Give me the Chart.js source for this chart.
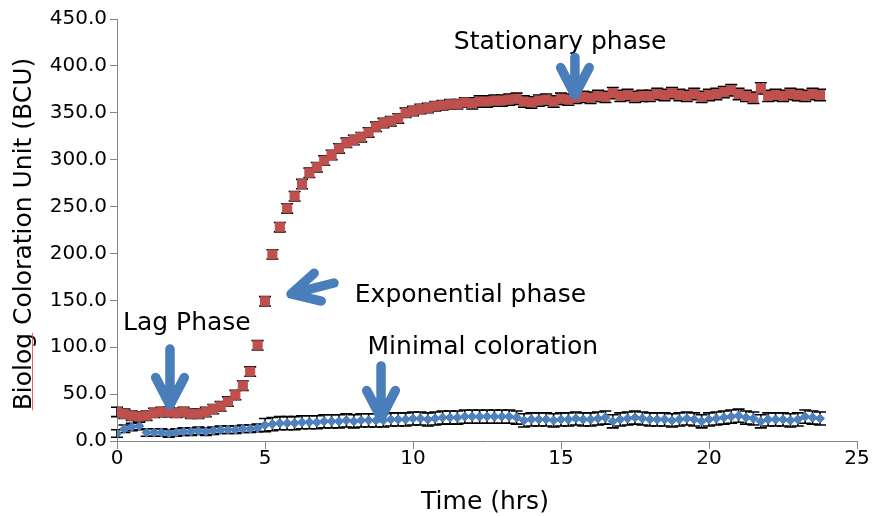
<!DOCTYPE html>
<html lang="en">
<head>
<meta charset="UTF-8">
<title>Biolog coloration over time</title>
<script src="https://cdn.jsdelivr.net/npm/chart.js"></script>
<style>
  html, body { margin: 0; padding: 0; background: #fff; }
  #wrap { width: 872px; height: 516px; position: relative; }
</style>
</head>
<body>
<div id="wrap"><canvas id="chart"></canvas></div>
<script>
// readings every 15 min (hrs)
const times = [
  0, 0.25, 0.5, 0.75, 1, 1.25, 1.5, 1.75, 2, 2.25, 2.5, 2.75, 3, 3.25, 3.5, 3.75,
  4, 4.25, 4.5, 4.75, 5, 5.25, 5.5, 5.75, 6, 6.25, 6.5, 6.75, 7, 7.25, 7.5, 7.75,
  8, 8.25, 8.5, 8.75, 9, 9.25, 9.5, 9.75, 10, 10.25, 10.5, 10.75, 11, 11.25, 11.5, 11.75,
  12, 12.25, 12.5, 12.75, 13, 13.25, 13.5, 13.75, 14, 14.25, 14.5, 14.75, 15, 15.25, 15.5, 15.75,
  16, 16.25, 16.5, 16.75, 17, 17.25, 17.5, 17.75, 18, 18.25, 18.5, 18.75, 19, 19.25, 19.5, 19.75,
  20, 20.25, 20.5, 20.75, 21, 21.25, 21.5, 21.75, 22, 22.25, 22.5, 22.75, 23, 23.25, 23.5, 23.75
];

// growing well (red squares), BCU
const growth = [
  31, 29, 27, 26, 27, 30, 31, 31, 30, 31, 29, 29, 31, 34, 37, 42,
  49, 59, 74, 102, 149, 199, 228, 248, 261, 274, 286, 292, 299, 305, 312, 318,
  321, 324, 329, 335, 339, 341, 344, 350, 352, 354, 355, 357, 358, 359, 359, 361,
  360, 362, 362, 363, 363, 364, 365, 362, 361, 363, 364, 362, 365, 364, 366, 367,
  366, 368, 367, 371, 368, 369, 367, 368, 368, 370, 369, 371, 369, 368, 370, 367,
  369, 370, 372, 374, 370, 368, 366, 376, 368, 369, 368, 370, 369, 368, 370, 369
];
const growthErr = [
  5, 5, 5, 5, 5, 5, 5, 5, 5, 5, 5, 5, 5, 5, 5, 5,
  5, 5, 5, 5, 5, 5, 5, 5, 5, 5, 5, 5, 5, 5, 5, 5,
  5, 5, 5, 5, 5, 5, 5, 5, 5, 5, 5, 5, 5, 5, 5, 5,
  6, 6, 6, 6, 6, 6, 6, 6, 6, 6, 6, 6, 6, 6, 6, 6,
  6, 6, 6, 6, 6, 6, 6, 6, 6, 6, 6, 6, 6, 6, 6, 6,
  6, 6, 6, 6, 6, 6, 6, 6, 6, 6, 6, 6, 6, 6, 6, 6
];

// minimal coloration well (blue diamonds), BCU
const minimal = [
  8, 13, 15, 16, 9, 9, 9, 8, 9, 10, 10, 11, 10, 11, 12, 12,
  12, 13, 13, 14, 17, 18, 19, 19, 19, 20, 20, 20, 21, 21, 21, 22,
  21, 22, 22, 22, 22, 23, 23, 23, 24, 24, 23, 24, 25, 25, 25, 26,
  26, 26, 26, 26, 26, 26, 25, 22, 23, 23, 23, 22, 23, 23, 24, 23,
  23, 24, 25, 21, 23, 24, 25, 24, 23, 23, 23, 22, 23, 24, 23, 21,
  23, 24, 25, 26, 27, 25, 24, 21, 23, 23, 23, 22, 23, 26, 25, 24
];
const minimalErr = [
  4, 4, 4, 4, 4, 4, 4, 4, 4, 4, 4, 4, 4, 4, 4, 4,
  4, 4, 4, 4, 7, 7, 7, 7, 7, 7, 7, 7, 7, 7, 7, 7,
  7, 7, 7, 7, 7, 7, 7, 7, 7, 7, 7, 7, 7, 7, 7, 7,
  7, 7, 7, 7, 7, 7, 7, 7, 7, 7, 7, 7, 7, 7, 7, 7,
  7, 7, 7, 7, 7, 7, 7, 7, 7, 7, 7, 7, 7, 7, 7, 7,
  7, 7, 7, 7, 7, 7, 7, 7, 7, 7, 7, 7, 7, 7, 7, 7
];

// phase labels: text anchor and arrow tail/tip, in (hrs, BCU)
const noteText = ['Stationary phase', 'Exponential phase', 'Lag Phase', 'Minimal coloration'];
const noteAt   = [[14.97, 418.0], [11.94, 148.2], [2.36, 118.4], [12.36, 92.8]];
const arrowFrom = [[15.47, 409.0], [7.33, 168.5], [1.79, 98.1], [8.92, 80.0]];
const arrowTo   = [[15.47, 369.0], [5.88, 156.8], [1.79, 38.4], [8.92, 24.5]];

const FONT = "'DejaVu Sans', sans-serif";
const AXIS_GREY = '#868686';
const ARROW_BLUE = '#4a7ebb';

function points(ys, errs) {
  return times.map((t, i) => ({ x: t, y: ys[i], err: errs[i] }));
}

// vertical error bars with caps, under the markers
const errorBars = {
  id: 'errorBars',
  beforeDatasetsDraw(chart) {
    const { ctx, scales: { x, y } } = chart;
    ctx.save();
    ctx.strokeStyle = '#000';
    ctx.lineWidth = 1.6;
    chart.data.datasets.forEach(ds => {
      ds.data.forEach(p => {
        const px = x.getPixelForValue(p.x);
        const top = y.getPixelForValue(p.y + p.err);
        const bot = y.getPixelForValue(p.y - p.err);
        ctx.beginPath();
        ctx.moveTo(px, top); ctx.lineTo(px, bot);
        ctx.moveTo(px - 6, top); ctx.lineTo(px + 6, top);
        ctx.moveTo(px - 6, bot); ctx.lineTo(px + 6, bot);
        ctx.stroke();
      });
    });
    ctx.restore();
  }
};

function drawArrow(ctx, x0, y0, x1, y1) {
  const a = Math.atan2(y1 - y0, x1 - x0);
  const head = 31, spread = 0.48;
  ctx.beginPath();
  ctx.moveTo(x0, y0);
  ctx.lineTo(x1, y1);
  ctx.moveTo(x1 - head * Math.cos(a - spread), y1 - head * Math.sin(a - spread));
  ctx.lineTo(x1, y1);
  ctx.lineTo(x1 - head * Math.cos(a + spread), y1 - head * Math.sin(a + spread));
  ctx.stroke();
}

// axis titles, phase labels and arrows
const decorations = {
  id: 'decorations',
  afterDraw(chart) {
    const { ctx, scales: { x, y } } = chart;
    ctx.save();
    ctx.fillStyle = '#000';
    ctx.font = '25px ' + FONT;
    ctx.textBaseline = 'alphabetic';

    // x title
    ctx.textAlign = 'center';
    ctx.fillText('Time (hrs)', 485, 509);

    // y title, rotated, with the spell-check underline under "Biolog"
    ctx.save();
    ctx.translate(31, 234);
    ctx.rotate(-Math.PI / 2);
    const title = 'Biolog Coloration Unit (BCU)';
    ctx.fillText(title, 0, 0);
    const start = -ctx.measureText(title).width / 2;
    const w = ctx.measureText('Biolog').width;
    ctx.strokeStyle = 'rgba(230, 60, 60, 0.8)';
    ctx.lineWidth = 1;
    ctx.beginPath();
    ctx.moveTo(start, 1.5);
    ctx.lineTo(start + w, 1.5);
    ctx.stroke();
    ctx.restore();

    // phase notes
    ctx.strokeStyle = ARROW_BLUE;
    ctx.lineWidth = 9.5;
    ctx.lineCap = 'round';
    ctx.lineJoin = 'round';
    noteText.forEach((txt, i) => {
      ctx.fillText(txt, x.getPixelForValue(noteAt[i][0]), y.getPixelForValue(noteAt[i][1]));
      drawArrow(ctx,
        x.getPixelForValue(arrowFrom[i][0]), y.getPixelForValue(arrowFrom[i][1]),
        x.getPixelForValue(arrowTo[i][0]), y.getPixelForValue(arrowTo[i][1]));
    });
    ctx.restore();
  }
};

new Chart(document.getElementById('chart'), {
  type: 'scatter',
  data: {
    datasets: [
      {
        label: 'Growth',
        data: points(growth, growthErr),
        pointStyle: 'rect',
        pointRadius: 6.4,
        backgroundColor: '#c0504d',
        borderColor: '#b8514e',
        borderWidth: 1
      },
      {
        label: 'Minimal',
        data: points(minimal, minimalErr),
        pointStyle: 'rectRot',
        pointRadius: 4.6,
        backgroundColor: '#4f81bd',
        borderColor: '#4a7ebb',
        borderWidth: 1
      }
    ]
  },
  options: {
    responsive: true,
    maintainAspectRatio: false,
    animation: false,
    devicePixelRatio: 1,
    layout: { padding: { left: 0, top: 19, right: 15, bottom: 0 } },
    plugins: {
      legend: { display: false },
      tooltip: { enabled: false }
    },
    scales: {
      x: {
        type: 'linear',
        min: 0,
        max: 25,
        afterFit(scale) { scale.height = 75; },
        ticks: { stepSize: 5, color: '#000', font: { family: FONT, size: 20 }, padding: -2, maxRotation: 0 },
        grid: { drawOnChartArea: false, drawTicks: true, tickLength: 8, color: AXIS_GREY },
        border: { display: true, color: AXIS_GREY, width: 1 }
      },
      y: {
        type: 'linear',
        min: 0,
        max: 450,
        afterFit(scale) { scale.width = 117; },
        ticks: {
          stepSize: 50,
          color: '#000',
          font: { family: FONT, size: 20 },
          padding: 3,
          callback: v => v.toFixed(1)
        },
        grid: { drawOnChartArea: false, drawTicks: true, tickLength: 7, color: AXIS_GREY },
        border: { display: true, color: AXIS_GREY, width: 1 }
      }
    }
  },
  plugins: [errorBars, decorations]
});
</script>
</body>
</html>
